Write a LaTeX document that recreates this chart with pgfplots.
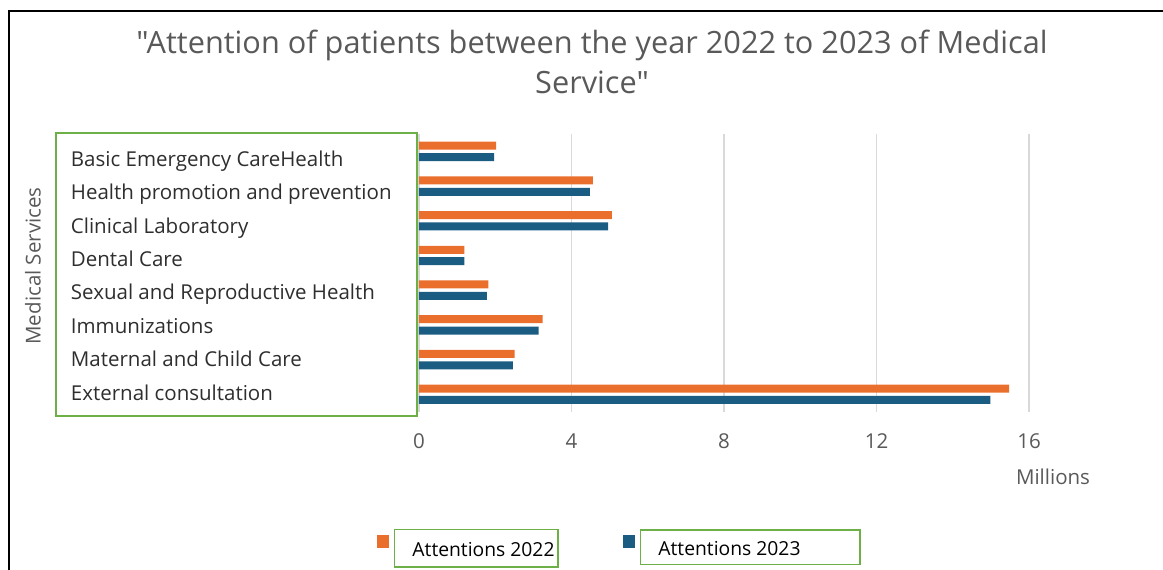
\documentclass[border=0pt]{standalone}
\usepackage{pgfplots}
\pgfplotsset{compat=1.18}
\usepackage{fontspec}
\setmainfont{Open Sans}[Ligatures=TeXOff]
\definecolor{c22}{HTML}{EB6F2C}
\definecolor{c23}{HTML}{1A5C82}
\definecolor{gridc}{HTML}{D9D9D9}
\definecolor{tgray}{HTML}{595959}
\definecolor{labc}{HTML}{2E2E2E}
\definecolor{lgreen}{HTML}{6DB048}
\newcommand\lgbox[5]{{\setlength\fboxsep{0pt}\setlength\fboxrule{1.5pt}\fcolorbox{lgreen}{white}{\raisebox{0pt}[#2][#3]{\makebox[#1][l]{\hspace{#4}#5}}}}}
\newcommand\lab{\fontsize{20.5}{24}\selectfont}
\begin{document}
\begin{tikzpicture}[x=1pt,y=1pt]
\path[use as bounding box] (0,0) rectangle (1163,570);
\draw[line width=2.5pt,black] (1163,559) -- (9,559) -- (9,0);
\node[align=center, text=tgray, font=\fontsize{30.7}{40}\selectfont] at (592,508) {"Attention of patients between the year 2022 to 2023 of Medical\\Service"};
\begin{axis}[
  at={(419pt,158.4pt)}, anchor=south west, scale only axis,
  width=610pt, height=277.6pt,
  xmin=0, xmax=16, ymin=-0.5, ymax=7.5, y dir=reverse,
  xtick={0,4,8,12,16},
  ytick={0.223,1.186,2.148,3.111,4.073,5.036,5.998,6.961},
  /pgf/number format/assume math mode=true,
  yticklabels={Basic Emergency CareHealth, Health promotion and prevention, Clinical Laboratory, Dental Care, Sexual and Reproductive Health, Immunizations, Maternal and Child Care, External consultation},
  xmajorgrids, major grid style={gridc, line width=1.2pt},
  axis line style={draw=none}, major tick style={draw=none},
  xticklabel style={text=tgray, font=\lab, inner sep=0pt, yshift=-22pt},
  yticklabel style={anchor=base west, inner sep=0pt, xshift=-344pt, yshift=-7.3pt, text=labc, font=\lab},
  xbar, bar width=8pt,
  legend columns=2,
  legend style={at={(-0.0689,-0.4157)}, anchor=north west, draw=none, fill=none, inner sep=0pt, outer sep=0pt, font=\fontsize{19.3}{22}\selectfont,
    /tikz/every odd column/.append style={column sep=3pt},
    /tikz/every even column/.append style={column sep=62pt}},
  legend image code/.code={\fill[#1] (0pt,-5pt) rectangle (12pt,8pt);},
]
\addplot[fill=c22, draw=none, bar shift=5.7pt] coordinates {(2.02,0) (4.56,1) (5.06,2) (1.19,3) (1.82,4) (3.24,5) (2.51,6) (15.48,7)};
\addlegendentry{\lgbox{162pt}{26pt}{10pt}{17pt}{Attentions 2022}}
\addplot[fill=c23, draw=none, bar shift=-5.7pt] coordinates {(1.97,0) (4.48,1) (4.96,2) (1.19,3) (1.78,4) (3.14,5) (2.46,6) (14.99,7)};
\addlegendentry{\lgbox{218pt}{25pt}{8pt}{17pt}{Attentions 2023}}
\end{axis}
\draw[lgreen, line width=1.5pt] (56,154) rectangle (417,437);
\node[text=tgray, font=\lab] at (1053,93) {Millions};
\node[rotate=90, text=tgray, font=\lab] at (33,304) {Medical Services};
\end{tikzpicture}
\end{document}
